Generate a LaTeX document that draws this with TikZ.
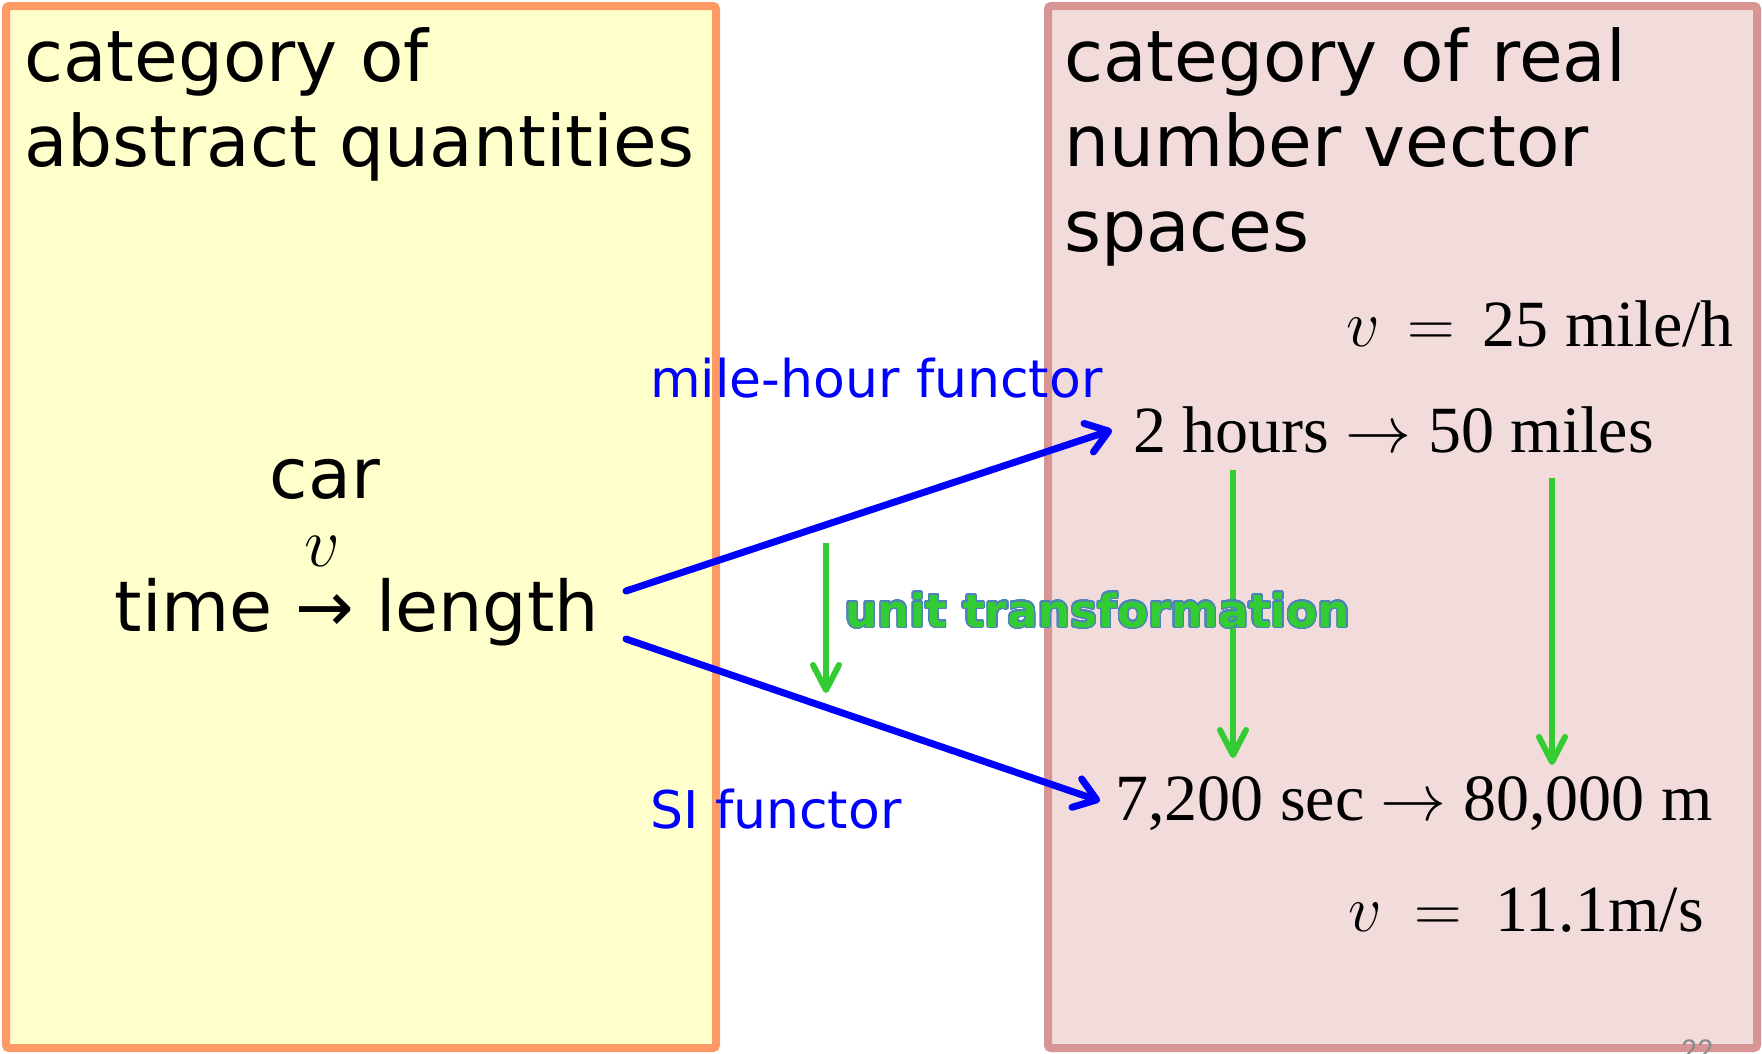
\documentclass[tikz,border=0pt]{standalone}
\usepackage{fix-cm}
\usepackage{fontspec}
\setmainfont{DejaVu Sans}
\newfontfamily\serifm{Liberation Serif}
\newfontfamily\pagenum{Carlito}
\newfontfamily\boldsans{DejaVu Sans}[BoldFont={DejaVu Sans Bold}]
\usepackage{contour}
\contourlength{1.3pt}
\contournumber{32}
\usetikzlibrary{arrows.meta}
\definecolor{lfill}{HTML}{FFFFCC}
\definecolor{ldraw}{HTML}{FF9966}
\definecolor{rfill}{HTML}{F2DCDB}
\definecolor{rdraw}{HTML}{D99594}
\definecolor{fblue}{HTML}{0000FF}
\definecolor{ugreen}{HTML}{33CC33}
\definecolor{uoutline}{HTML}{4F81BD}
\definecolor{pgrey}{HTML}{8C8C8C}
\tikzset{
  leftbox/.style={draw=ldraw, fill=lfill, line width=8pt, rounded corners=3pt},
  rightbox/.style={draw=rdraw, fill=rfill, line width=8pt, rounded corners=3pt},
  titletext/.style={inner sep=0pt, anchor=base west, font=\fontsize{71}{84}\selectfont},
  bigtext/.style={inner sep=0pt, anchor=base, font=\fontsize{70}{84}\selectfont},
  functext/.style={inner sep=0pt, anchor=base west, text=fblue, font=\fontsize{52}{60}\selectfont},
  mathtext/.style={inner sep=0pt, font=\serifm\fontsize{66}{78}\selectfont},
  functor/.style={draw=fblue, line width=7pt, line cap=round, -{Straight Barb[length=21pt,width=30pt,round]}},
  unitarrow/.style={draw=ugreen, line width=6pt, -{Straight Barb[length=25pt,width=26pt,round]}}
}
\begin{document}
\begin{tikzpicture}[x=1pt,y=-1pt]
\useasboundingbox (0,0) rectangle (1762,1053);
\clip (0,0) rectangle (1762,1053);
\fill[white] (0,0) rectangle (1762,1053);
% boxes
\draw[leftbox] (6,6) rectangle (716,1048);
\draw[rightbox] (1048,6) rectangle (1757,1048);
% titles
\node[titletext] (lt1) at (24,81) {category of};
\node[titletext] (lt2) at (24,166) {abstract quantities};
\node[titletext] (rt1) at (1064,81) {category of real};
\node[titletext] (rt2) at (1064,166) {number vector};
\node[titletext] (rt3) at (1064,251) {spaces};
% left object
\node[bigtext] (car) at (325,498) {car};
\node[bigtext] (vv) at (322,566) {$v$};
\node[bigtext] (tl) at (357,631) {time → length};
% right objects
\node[mathtext, anchor=base east] (v25) at (1734,346) {$v$\hspace{0.42em}$=$\hspace{0.42em}25 mile/h};
\node[mathtext, anchor=base west] (h50) at (1133,452) {2 hours $\rightarrow$ 50 miles};
\node[mathtext, anchor=base west] (s7200) at (1115,820) {7,200 sec $\rightarrow$ 80,000 m};
\node[mathtext, anchor=base east] (v11) at (1704,931) {$v$\hspace{0.5em}$=$\hspace{0.5em}11.1m/s};
% functor labels
\node[functext] (mh) at (650,397) {mile-hour functor};
\node[functext] (si) at (650,828) {SI functor};
% functor arrows
\coordinate (ua0) at (626,591);
\coordinate (ua1) at (1112,430);
\coordinate (la0) at (626,639);
\coordinate (la1) at (1100,801);
\draw[functor] (ua0) -- (ua1);
\draw[functor] (la0) -- (la1);
% unit transformation arrows
\coordinate (g1a) at (826,543);
\coordinate (g1b) at (826,693);
\coordinate (g2a) at (1233,470);
\coordinate (g2b) at (1233,758);
\coordinate (g3a) at (1552,478);
\coordinate (g3b) at (1552,765);
\draw[unitarrow] (g1a) -- (g1b);
\draw[unitarrow] (g2a) -- (g2b);
\draw[unitarrow] (g3a) -- (g3b);
% unit transformation label
\node[inner sep=0pt, anchor=base west, font=\boldsans\bfseries\fontsize{45.5}{54}\selectfont, text=ugreen] (ut) at (845,627) {\contour{uoutline}{unit transformation}};
% page number
\node[inner sep=0pt, anchor=base, text=pgrey, font=\pagenum\fontsize{32}{38}\selectfont] (pn) at (1697,1060) {22};
\end{tikzpicture}
\end{document}
